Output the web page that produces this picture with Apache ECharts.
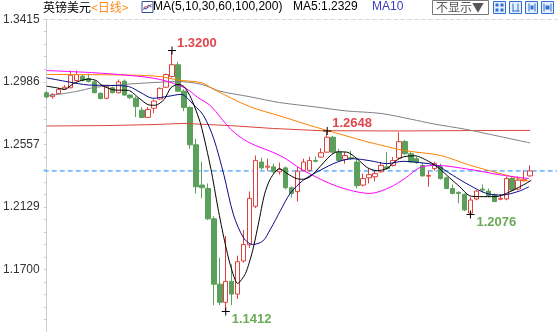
<!DOCTYPE html>
<html>
<head>
<meta charset="utf-8">
<style>html,body{margin:0;padding:0;background:#fff;}#chart{width:557px;height:332px;}</style>
<script src="https://cdn.jsdelivr.net/npm/echarts/dist/echarts.min.js"></script>
</head>
<body>
<div id="chart"></div>
<script>
// ---- data ----
const categories = Array.from({length: 86}, (_, i) => String(i + 1));

const opens = [
1.2911,1.2884,1.2905,1.2936,1.2945,1.2995,1.3024,1.3008,1.2986,1.2907,
1.2873,1.2945,1.2911,1.2990,1.2895,1.2873,1.2791,1.2742,1.2805,1.2868,
1.2949,1.3022,1.3103,1.2922,1.2810,1.2554,1.2278,1.2255,1.2047,1.1599,
1.1475,1.1618,1.1531,1.1758,1.1869,1.2133,1.2436,1.2401,1.2403,1.2369,
1.2396,1.2260,1.2233,1.2379,1.2379,1.2447,1.2470,1.2504,1.2606,1.2504,
1.2454,1.2466,1.2436,1.2278,1.2328,1.2335,1.2369,1.2403,1.2413,1.2464,
1.2576,1.2493,1.2459,1.2413,1.2339,1.2391,1.2403,1.2328,1.2255,1.2228,
1.2215,1.2086,1.2183,1.2251,1.2237,1.2210,1.2181,1.2183,1.2323,1.2251,
1.2308,1.2341];
const closes = [
1.2882,1.2900,1.2934,1.2949,1.3031,1.3036,1.2995,1.2988,1.2911,1.2871,
1.2956,1.2911,1.2986,1.2895,1.2877,1.2816,1.2742,1.2796,1.2854,1.2941,
1.3036,1.3103,1.2922,1.2810,1.2554,1.2267,1.2260,1.2047,1.1599,1.1475,
1.1618,1.1531,1.1753,1.1871,1.2187,1.2447,1.2396,1.2408,1.2369,1.2386,
1.2260,1.2221,1.2373,1.2436,1.2447,1.2441,1.2500,1.2606,1.2504,1.2447,
1.2481,1.2459,1.2274,1.2323,1.2350,1.2357,1.2413,1.2391,1.2447,1.2576,
1.2493,1.2436,1.2432,1.2341,1.2344,1.2425,1.2323,1.2255,1.2221,1.2221,
1.2108,1.2176,1.2237,1.2244,1.2206,1.2165,1.2187,1.2323,1.2244,1.2312,
1.2318,1.2375];
const lows = [
1.2871,1.2871,1.2900,1.2930,1.2941,1.2988,1.2988,1.2981,1.2907,1.2866,
1.2866,1.2907,1.2907,1.2890,1.2866,1.2744,1.2737,1.2737,1.2771,1.2863,
1.2944,1.3015,1.2920,1.2785,1.2527,1.2221,1.2187,1.2038,1.1455,1.1455,
1.1412,1.1455,1.1498,1.1747,1.1848,1.2120,1.2384,1.2377,1.2357,1.2350,
1.2249,1.2194,1.2165,1.2371,1.2371,1.2435,1.2466,1.2500,1.2493,1.2439,
1.2425,1.2452,1.2255,1.2269,1.2289,1.2303,1.2364,1.2384,1.2405,1.2459,
1.2486,1.2432,1.2425,1.2337,1.2267,1.2377,1.2316,1.2249,1.2215,1.2154,
1.2099,1.2076,1.2174,1.2228,1.2194,1.2160,1.2174,1.2174,1.2235,1.2242,
1.2303,1.2337];
const highs = [
1.2922,1.2907,1.2944,1.2963,1.3063,1.3063,1.3036,1.3042,1.2995,1.2913,
1.2961,1.2954,1.3002,1.3002,1.2900,1.2886,1.2812,1.2812,1.2866,1.2947,
1.3042,1.3200,1.3124,1.2934,1.2818,1.2595,1.2439,1.2289,1.2065,1.1780,
1.1930,1.1735,1.1794,1.1970,1.2235,1.2481,1.2466,1.2459,1.2425,1.2432,
1.2405,1.2269,1.2403,1.2459,1.2472,1.2474,1.2531,1.2648,1.2615,1.2527,
1.2504,1.2513,1.2459,1.2357,1.2391,1.2379,1.2436,1.2506,1.2470,1.2640,
1.2588,1.2506,1.2472,1.2432,1.2377,1.2439,1.2425,1.2337,1.2282,1.2235,
1.2221,1.2194,1.2244,1.2282,1.2255,1.2221,1.2215,1.2337,1.2337,1.2337,
1.2379,1.2413];

// moving-average lines: [candle index, value]
const ma5 = [[0,1.2956],[1.8,1.2944],[3,1.2934],[4.5,1.2974],[5.8,1.2995],[7,1.3005],[8.3,1.2995],[9.3,1.2961],[11.3,1.2930],[13.7,1.2927],[15.5,1.2873],[17,1.2829],[18.2,1.2825],[19.7,1.2866],[20.8,1.2945],[22,1.2968],[23,1.2954],[24.2,1.2873],[25.8,1.2696],[27.5,1.2391],[28.7,1.2120],[29.8,1.1896],[30.8,1.1726],[32,1.1604],[33.3,1.1672],[34.5,1.1828],[35.5,1.2018],[36.5,1.2215],[37.5,1.2323],[39,1.2391],[40.3,1.2357],[41.8,1.2323],[43,1.2318],[44.2,1.2337],[45.8,1.2405],[47.5,1.2479],[48.7,1.2506],[50.3,1.2504],[52,1.2459],[53.7,1.2398],[55.3,1.2377],[57,1.2391],[58.5,1.2445],[59.8,1.2472],[61.7,1.2479],[64.2,1.2436],[65.8,1.2391],[67.5,1.2328],[69.2,1.2267],[70.8,1.2206],[72.5,1.2199],[75.3,1.2199],[77,1.2221],[78.7,1.2255],[80.3,1.2289],[81.2,1.2312]];
const ma10 = [[0,1.3013],[3.7,1.2985],[7,1.2964],[10.8,1.2961],[13.7,1.2954],[15.8,1.2911],[17.8,1.2873],[20.3,1.2886],[22.5,1.2900],[24.7,1.2825],[26.3,1.2753],[28,1.2595],[29.7,1.2346],[31.3,1.2074],[33,1.1916],[34.5,1.1871],[36.2,1.1894],[37.5,1.1977],[39.2,1.2106],[40.8,1.2221],[43,1.2312],[45.8,1.2379],[48.7,1.2436],[51.3,1.2459],[54.2,1.2445],[57,1.2425],[59.7,1.2441],[62.5,1.2432],[65.3,1.2413],[68,1.2346],[70.8,1.2278],[73.7,1.2221],[76.3,1.2210],[79.2,1.2237],[80.8,1.2267]];
const ma30 = [[0,1.3063],[7.5,1.3049],[14,1.3029],[19,1.3002],[23.3,1.2941],[25.3,1.2879],[27.5,1.2820],[30.8,1.2662],[33.7,1.2574],[39.2,1.2479],[43,1.2379],[48.7,1.2269],[54.2,1.2221],[57.5,1.2262],[60,1.2323],[62.5,1.2398],[65.3,1.2413],[70.8,1.2386],[76.3,1.2346],[80.8,1.2323]];
const ma60 = [[0,1.3036],[14,1.3032],[19,1.3022],[22,1.2998],[26,1.2979],[28,1.2934],[34,1.2816],[39,1.2753],[45,1.2676],[51,1.2606],[54,1.2572],[60,1.2515],[66,1.2481],[71,1.2413],[77,1.2346],[81,1.2301]];
const ma100 = [[0,1.2888],[5,1.2920],[8,1.2947],[13,1.2968],[18,1.2981],[22,1.2988],[26,1.2968],[29,1.2922],[34,1.2884],[39,1.2844],[45,1.2814],[50,1.2787],[56,1.2769],[61,1.2730],[65,1.2696],[70,1.2662],[74,1.2628],[81,1.2567]];
const ma200 = [[0,1.2683],[10,1.2686],[18,1.2693],[23,1.2701],[31,1.2685],[38,1.2666],[46,1.2651],[59,1.2649],[72,1.2652],[81,1.2653]];

const yTickValues = [1.17, 1.212875, 1.25575, 1.298625, 1.3415];
const yTickLabels = ['1.1700', '1.2129', '1.2557', '1.2986', '1.3415'];

const peaks = [
  {i: 21, kind: 'high', text: '1.3200'},
  {i: 47, kind: 'high', text: '1.2648'},
  {i: 30, kind: 'low',  text: '1.1412'},
  {i: 71, kind: 'low',  text: '1.2076'}
];

const titleText = '英镑美元';
const periodText = '<日线>';
const maTitle = 'MA(5,10,30,60,100,200)';
const ma5Text = 'MA5:1.2329';
const ma10Text = 'MA10';
const hideText = '不显示▼';

// ---- build ----
const step = yTickValues[1] - yTickValues[0];
const yMax = yTickValues[yTickValues.length - 1];
const yMin = yTickValues[0] - step;
const minorTicks = [];
for (let k = 0; k <= 25; k++) minorTicks.push(yMin + k * step / 5);

const candleData = opens.map((o, i) => [o, closes[i], lows[i], highs[i]]);
const lastClose = closes[closes.length - 1];
const xSpan = [-0.5, categories.length - 0.5];

const RED = '#e0403c', GREEN = '#5a9f5a';
const NUMFONT = '"Liberation Sans", Arial, "Noto Sans CJK SC", sans-serif';
const CJKFONT = '"Noto Sans CJK SC", "Liberation Sans", sans-serif';

function labelFor(v) {
  let best = 0;
  for (let k = 1; k < yTickValues.length; k++) {
    if (Math.abs(yTickValues[k] - v) < Math.abs(yTickValues[best] - v)) best = k;
  }
  return Math.abs(yTickValues[best] - v) < step / 10 ? yTickLabels[best] : '';
}

function maSeries(name, data, color, smooth) {
  return {
    name, type: 'line', xAxisIndex: 1, yAxisIndex: 0, data,
    symbol: 'none', smooth: smooth, silent: true,
    lineStyle: {color, width: 1}, z: 3
  };
}

const plusPath = 'path://M0,3.5L8,3.5L8,4.5L0,4.5Z M3.5,0L4.5,0L4.5,8L3.5,8Z';

function icon(x, glyph) {
  const children = [{type: 'rect', shape: {x: 0, y: 0, width: 12, height: 12}, style: {fill: '#e6effc', stroke: '#2f6fd0', lineWidth: 1}}];
  glyph.forEach(g => children.push({type: 'rect', shape: g, style: {fill: '#2f6fd0'}}));
  return {type: 'group', x: x + 0.5, y: 1.5, children};
}

const option = {
  animation: false,
  grid: {left: 42, right: 0, top: 19.2, bottom: -3.2, containLabel: false},
  xAxis: [
    {type: 'category', data: categories, show: false, boundaryGap: true},
    {type: 'value', min: xSpan[0], max: xSpan[1], position: 'top', gridIndex: 0,
     axisLine: {show: true, lineStyle: {color: '#d9d9d9', type: [4, 3], width: 1}},
     axisTick: {show: false}, axisLabel: {show: false}, splitLine: {show: false}}
  ],
  yAxis: {
    type: 'value', min: yMin, max: yMax,
    axisLine: {show: true, lineStyle: {color: '#c8d0db'}},
    axisTick: {show: true, length: 3, customValues: minorTicks, lineStyle: {color: '#c8d0db'}},
    axisLabel: {customValues: yTickValues, formatter: labelFor, color: '#333', fontSize: 12, margin: 4, fontFamily: NUMFONT},
    splitLine: {show: false}
  },
  series: [
    maSeries('MA200', ma200, '#d9453c', false),
    maSeries('MA100', ma100, '#808080', 0.3),
    maSeries('MA60', ma60, '#ff8000', 0.3),
    maSeries('MA30', ma30, '#ff00ff', 0.3),
    maSeries('MA10', ma10, '#0a0a8c', 0.3),
    maSeries('MA5', ma5, '#000000', 0.25),
    {
      name: 'last', type: 'line', xAxisIndex: 1, yAxisIndex: 0, silent: true,
      data: [[xSpan[0], lastClose], [xSpan[1], lastClose]], symbol: 'none',
      lineStyle: {color: '#1a8cff', type: [5, 3], width: 1}, z: 1
    },
    {
      name: 'K', type: 'candlestick', data: candleData, barWidth: 5, z: 2,
      itemStyle: {color: '#ffffff', color0: GREEN, borderColor: RED, borderColor0: GREEN, borderWidth: 1},
      markPoint: {
        silent: true, symbol: plusPath, symbolSize: 8,
        itemStyle: {color: '#000'},
        data: peaks.map(p => ({
          coord: [p.i, p.kind === 'high' ? highs[p.i] : lows[p.i]],
          label: {
            show: true, formatter: p.text,
            position: p.kind === 'high' ? [9, -10] : [10, 5],
            color: p.kind === 'high' ? '#e0474c' : '#6aaa58',
            fontWeight: 'bold', fontSize: 13, fontFamily: NUMFONT
          }
        }))
      }
    }
  ],
  graphic: [
    {type: 'text', left: 43, top: 1, style: {text: titleText, fill: '#000', font: '12px ' + CJKFONT}},
    {type: 'text', left: 91, top: 1, style: {text: periodText, fill: '#ff8c1a', font: '12px ' + CJKFONT}},
    {type: 'group', left: 141, top: 1, children: [
      {type: 'rect', shape: {x: 0.5, y: 0.5, width: 11, height: 11}, style: {fill: '#fff', stroke: '#2f4fa0', lineWidth: 1}},
      {type: 'polyline', shape: {points: [[2, 9], [4, 5], [6, 7], [10, 3]]}, style: {stroke: '#d04040', lineWidth: 1, fill: null}},
      {type: 'polyline', shape: {points: [[2, 7], [5, 8], [7, 4], [10, 6]]}, style: {stroke: '#3050c0', lineWidth: 1, fill: null}}
    ]},
    {type: 'text', left: 153, top: 1, style: {text: maTitle, fill: '#000', font: '12px ' + NUMFONT}},
    {type: 'text', left: 293, top: 1, style: {text: ma5Text, fill: '#000', font: '12px ' + NUMFONT}},
    {type: 'text', left: 372, top: 1, style: {text: ma10Text, fill: '#3a3ac4', font: '12px ' + NUMFONT}},
    {type: 'rect', shape: {x: 432.5, y: 0.5, width: 56, height: 14}, style: {fill: '#fff', stroke: '#7a7a7a', lineWidth: 1}},
    {type: 'text', left: 436, top: 1, style: {text: hideText, fill: '#555', font: '12px ' + CJKFONT}},
    icon(493, [{x: 2, y: 2, width: 3, height: 3}, {x: 7, y: 2, width: 3, height: 3}, {x: 2, y: 7, width: 3, height: 3}, {x: 7, y: 7, width: 3, height: 3}]),
    icon(509, [{x: 3, y: 2, width: 1, height: 8}, {x: 8, y: 2, width: 1, height: 8}, {x: 3, y: 9, width: 7, height: 1}]),
    icon(525, [{x: 3, y: 2, width: 1, height: 8}, {x: 5, y: 4, width: 3, height: 4}, {x: 9, y: 2, width: 1, height: 8}]),
    icon(541, [{x: 2, y: 2, width: 1, height: 8}, {x: 4, y: 4, width: 4, height: 4}, {x: 9, y: 2, width: 1, height: 8}])
  ]
};

const chart = echarts.init(document.getElementById('chart'), null, {renderer: 'canvas'});
chart.setOption(option);
</script>
</body>
</html>
